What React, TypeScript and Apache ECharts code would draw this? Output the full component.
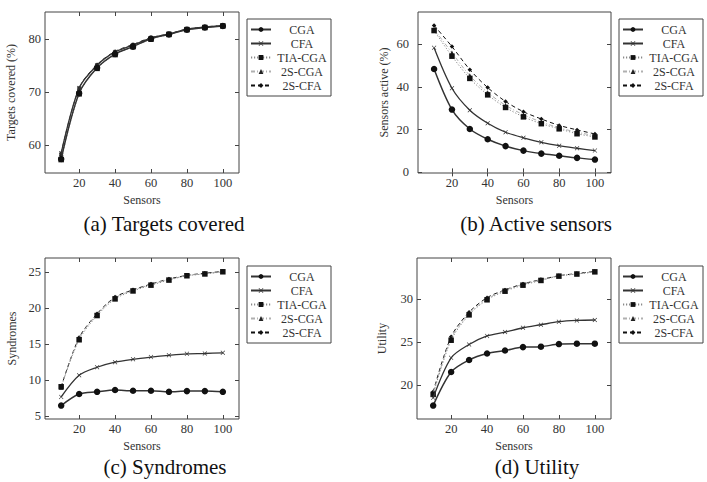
import React, { useEffect, useRef } from "react";
import * as echarts from "echarts";

const sensors = [10, 20, 30, 40, 50, 60, 70, 80, 90, 100];
const seriesNames = ["CGA", "CFA", "TIA-CGA", "2S-CGA", "2S-CFA"];
const xTicks = [20, 40, 60, 80, 100];

// (a) Targets covered (%)
const targetsCGA = [57.4, 69.8, 74.6, 77.2, 78.6, 80.1, 80.9, 81.8, 82.2, 82.5];
const targetsCFA = [58.5, 70.8, 75.1, 77.6, 78.9, 80.2, 81.0, 81.9, 82.3, 82.5];
const targetsTIA = [57.3, 69.7, 74.5, 77.1, 78.6, 80.0, 80.9, 81.8, 82.2, 82.5];
const targets2SCGA = [58.4, 70.7, 75.0, 77.6, 78.9, 80.2, 81.0, 81.9, 82.3, 82.6];
const targets2SCFA = [58.5, 70.8, 75.2, 77.7, 79.0, 80.3, 81.0, 81.9, 82.3, 82.6];
const targetsTicks = [60, 70, 80];

// (b) Sensors active (%)
const activeCGA = [48.4, 29.4, 20.3, 15.5, 12.3, 10.2, 8.8, 7.8, 6.8, 6.0];
const activeCFA = [58.3, 39.4, 29.1, 23.0, 18.8, 16.2, 14.1, 12.5, 11.3, 10.2];
const activeTIA = [66.4, 54.4, 44.0, 36.3, 30.4, 26.0, 22.8, 20.4, 18.1, 16.6];
const active2SCGA = [67.0, 56.0, 45.3, 37.4, 31.4, 27.0, 23.6, 20.9, 18.8, 17.2];
const active2SCFA = [68.8, 58.9, 48.1, 39.7, 33.2, 28.4, 25.0, 22.0, 19.9, 18.0];
const activeTicks = [0, 20, 40, 60];

// (c) Syndromes
const syndCGA = [6.5, 8.1, 8.4, 8.65, 8.55, 8.55, 8.4, 8.5, 8.5, 8.4];
const syndCFA = [7.7, 10.7, 11.8, 12.5, 12.9, 13.2, 13.45, 13.65, 13.7, 13.8];
const syndTIA = [9.1, 15.6, 18.95, 21.25, 22.35, 23.15, 23.85, 24.45, 24.7, 25.0];
const synd2SCGA = [9.0, 15.8, 19.1, 21.4, 22.45, 23.25, 23.95, 24.45, 24.75, 25.0];
const synd2SCFA = [9.1, 15.9, 19.2, 21.5, 22.5, 23.3, 24.0, 24.5, 24.8, 25.05];
const syndTicks = [5, 10, 15, 20, 25];

// (d) Utility
const utilCGA = [17.6, 21.5, 22.9, 23.65, 24.0, 24.4, 24.45, 24.75, 24.8, 24.8];
const utilCFA = [18.5, 23.15, 24.7, 25.7, 26.15, 26.65, 27.0, 27.35, 27.5, 27.55];
const utilTIA = [18.9, 25.2, 28.15, 29.9, 30.9, 31.6, 32.15, 32.65, 32.9, 33.15];
const util2SCGA = [19.0, 25.4, 28.3, 30.0, 31.0, 31.7, 32.2, 32.7, 32.9, 33.15];
const util2SCFA = [19.2, 25.6, 28.45, 30.15, 31.05, 31.75, 32.25, 32.7, 32.95, 33.2];
const utilTicks = [20, 25, 30];

const FONT = "Liberation Serif";
const BOX = "#444";
const TXT = "#333";

const X_SYMBOL = "path://M0,1L1,0L5,4L9,0L10,1L6,5L10,9L9,10L5,6L1,10L0,9L4,5Z";

const styles = [
  { symbol: "circle", symbolSize: 6.5, lineColor: "#333", width: 1.5, type: "solid" as any, item: "#111" },
  { symbol: X_SYMBOL, symbolSize: 4.5, lineColor: "#333", width: 1.3, type: "solid" as any, item: "#333" },
  { symbol: "rect", symbolSize: 5.5, lineColor: "#8a8a8a", width: 1, type: [1.2, 1.8] as any, item: "#111" },
  { symbol: "triangle", symbolSize: 4.5, lineColor: "#b0b0b0", width: 1, type: [4, 2, 1, 2] as any, item: "#222" },
  { symbol: "diamond", symbolSize: 4.5, lineColor: "#111", width: 1, type: [4, 3] as any, item: "#111" },
];

type Panel = {
  data: number[][];
  yTicks: number[];
  yName: string;
  caption: string;
  left: number;
  top: number;
  width: number;
  height: number;
  labelMargin: number;
  nameGap: number;
  legendLeft: number;
  legendTop: number;
  captionX: number;
  captionY: number;
};

const panels: Panel[] = [
  {
    data: [targetsCGA, targetsCFA, targetsTIA, targets2SCGA, targets2SCFA],
    yTicks: targetsTicks, yName: "Targets covered (%)", caption: "(a) Targets covered",
    left: 45, top: 12, width: 194, height: 161, labelMargin: 4, nameGap: 28,
    legendLeft: 247, legendTop: 19, captionX: 164, captionY: 224,
  },
  {
    data: [activeCGA, activeCFA, activeTIA, active2SCGA, active2SCFA],
    yTicks: activeTicks, yName: "Sensors active (%)", caption: "(b) Active sensors",
    left: 418, top: 12, width: 193, height: 161, labelMargin: 9, nameGap: 28,
    legendLeft: 619, legendTop: 19, captionX: 536, captionY: 224,
  },
  {
    data: [syndCGA, syndCFA, syndTIA, synd2SCGA, synd2SCFA],
    yTicks: syndTicks, yName: "Syndromes", caption: "(c) Syndromes",
    left: 45, top: 258, width: 194, height: 161, labelMargin: 4, nameGap: 27,
    legendLeft: 247, legendTop: 266, captionX: 165, captionY: 467,
  },
  {
    data: [utilCGA, utilCFA, utilTIA, util2SCGA, util2SCFA],
    yTicks: utilTicks, yName: "Utility", caption: "(d) Utility",
    left: 417, top: 258, width: 194, height: 161, labelMargin: 4, nameGap: 29,
    legendLeft: 619, legendTop: 266, captionX: 537, captionY: 467,
  },
];

function enlarged(values: number[]): [number, number] {
  const lo = Math.min(...values);
  const hi = Math.max(...values);
  const pad = (hi - lo) * 0.1;
  return [lo - pad, hi + pad];
}

export default function App() {
  const ref = useRef<HTMLDivElement>(null);

  useEffect(() => {
    if (!ref.current) return;
    const chart = echarts.init(ref.current, null, { renderer: "svg" });

    const [xMin, xMax] = enlarged(sensors);
    const grid: any[] = [];
    const xAxis: any[] = [];
    const yAxis: any[] = [];
    const series: any[] = [];
    const legend: any[] = [];
    const graphic: any[] = [];

    panels.forEach((p, i) => {
      grid.push({
        left: p.left, top: p.top, width: p.width, height: p.height,
        show: true, borderColor: BOX, borderWidth: 1, backgroundColor: "transparent",
      });
      const [yMin, yMax] = enlarged(p.data.flat());
      const tickStyle = { show: true, inside: true, length: 4, lineStyle: { color: BOX, width: 1 } };
      xAxis.push({
        type: "value", gridIndex: i, min: xMin, max: xMax, position: "bottom",
        axisLine: { show: false }, splitLine: { show: false },
        axisTick: { ...tickStyle, customValues: xTicks },
        axisLabel: { customValues: xTicks, color: TXT, fontFamily: FONT, fontSize: 12.5, margin: 3 },
        name: "Sensors", nameLocation: "middle", nameGap: 21,
        nameTextStyle: { color: TXT, fontFamily: FONT, fontSize: 12 },
      });
      xAxis.push({
        type: "value", gridIndex: i, min: xMin, max: xMax, position: "top",
        axisLine: { show: false }, splitLine: { show: false },
        axisTick: { ...tickStyle, customValues: xTicks },
        axisLabel: { show: false },
      });
      yAxis.push({
        type: "value", gridIndex: i, min: yMin, max: yMax, position: "left",
        axisLine: { show: false }, splitLine: { show: false },
        axisTick: { ...tickStyle, customValues: p.yTicks },
        axisLabel: { customValues: p.yTicks, color: TXT, fontFamily: FONT, fontSize: 12.5, margin: p.labelMargin },
        name: p.yName, nameLocation: "middle", nameGap: p.nameGap, nameRotate: 90,
        nameTextStyle: { color: TXT, fontFamily: FONT, fontSize: 12 },
      });
      yAxis.push({
        type: "value", gridIndex: i, min: yMin, max: yMax, position: "right",
        axisLine: { show: false }, splitLine: { show: false },
        axisTick: { ...tickStyle, customValues: p.yTicks },
        axisLabel: { show: false },
      });
      p.data.forEach((vals, k) => {
        const s = styles[k];
        series.push({
          type: "line", name: seriesNames[k],
          xAxisIndex: i * 2, yAxisIndex: i * 2,
          data: sensors.map((x, j) => [x, vals[j]]),
          smooth: 0.3,
          symbol: s.symbol, symbolSize: s.symbolSize, showSymbol: true,
          lineStyle: { color: s.lineColor, width: s.width, type: s.type },
          itemStyle: { color: s.item, borderWidth: 0 },
          z: 10 - k,
        });
      });
      legend.push({
        data: seriesNames, orient: "vertical", left: p.legendLeft, top: p.legendTop,
        borderColor: BOX, borderWidth: 1, padding: [4, 3, 4, 3], itemGap: 1,
        itemWidth: 20, itemHeight: 6, selectedMode: false,
        formatter: (name: string) => `{c|${name}}`,
        textStyle: {
          color: TXT, fontFamily: FONT, fontSize: 12, lineHeight: 13,
          rich: { c: { width: 52, align: "center", fontFamily: FONT, fontSize: 12, color: TXT, lineHeight: 13 } },
        },
      });
      graphic.push({
        type: "text", x: p.captionX, y: p.captionY,
        style: { text: p.caption, fill: "#111", font: `21px "${FONT}"`, align: "center", verticalAlign: "middle" },
      });
    });

    chart.setOption({
      animation: false,
      backgroundColor: "#fff",
      grid, xAxis, yAxis, series, legend, graphic,
    });
    return () => chart.dispose();
  }, []);

  return <div ref={ref} style={{ width: 707, height: 482, position: "absolute", left: 0, top: 0 }} />;
}
